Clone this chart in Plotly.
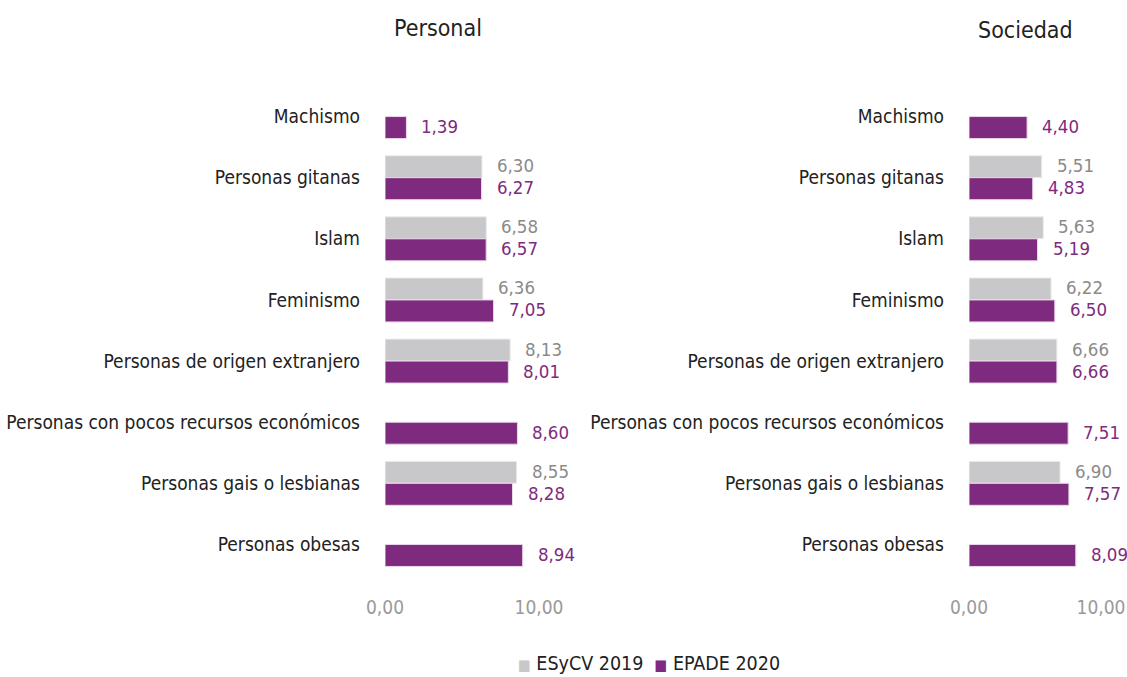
import plotly.graph_objects as go
from plotly.subplots import make_subplots

categories = ["Machismo", "Personas gitanas", "Islam", "Feminismo",
              "Personas de origen extranjero",
              "Personas con pocos recursos económicos",
              "Personas gais o lesbianas", "Personas obesas"]
series_names = ["ESyCV 2019", "EPADE 2020"]
personal_2019 = [None, 6.30, 6.58, 6.36, 8.13, None, 8.55, None]
personal_2020 = [1.39, 6.27, 6.57, 7.05, 8.01, 8.60, 8.28, 8.94]
sociedad_2019 = [None, 5.51, 5.63, 6.22, 6.66, None, 6.90, None]
sociedad_2020 = [4.40, 4.83, 5.19, 6.50, 6.66, 7.51, 7.57, 8.09]
panel_titles = ["Personal", "Sociedad"]
x_ticks = [0, 10]

FONT = "DejaVu Sans Condensed, Liberation Sans Narrow, Roboto, sans-serif"
GRAY = "#C8C8CA"
PURPLE = "#7E2A7E"
GRAY_TXT = "#8A8A8A"
PURPLE_TXT = "#7E2A7E"
W, H = 1127, 677

fig = make_subplots(rows=1, cols=2)

panels = [(personal_2019, personal_2020), (sociedad_2019, sociedad_2020)]
for col, (v19, v20) in enumerate(panels, start=1):
    fig.add_trace(go.Bar(
        y=categories, x=v19, orientation="h", name=series_names[0],
        marker=dict(color=GRAY, line=dict(color="#EDEDED", width=1)),
        showlegend=False, legendgroup="a", hoverinfo="x+y"),
        row=1, col=col)
    fig.add_trace(go.Bar(
        y=categories, x=v20, orientation="h", name=series_names[1],
        marker=dict(color=PURPLE, line=dict(color="#E8D8E8", width=1)),
        showlegend=False, legendgroup="b", hoverinfo="x+y"),
        row=1, col=col)
    xr = "x" if col == 1 else "x2"
    yr = "y" if col == 1 else "y2"
    for vals, color, dy in [(v19, GRAY_TXT, -11), (v20, PURPLE_TXT, 11)]:
        for cat, v in zip(categories, vals):
            if v is None:
                continue
            fig.add_annotation(
                x=v, y=cat, xref=xr, yref=yr, showarrow=False,
                text=f"{v:.2f}".replace(".", ","),
                xanchor="left", yanchor="middle", xshift=13, yshift=-dy + 1,
                font=dict(size=18.5, family=FONT, color=color))

yb, yt = (H - 575) / H, (H - 86) / H
fig.update_layout(
    width=W, height=H,
    margin=dict(l=0, r=0, t=0, b=0),
    paper_bgcolor="white", plot_bgcolor="white",
    barmode="group", bargap=0.28, bargroupgap=0,
    separators=",.",
    showlegend=False,
    font=dict(family=FONT, size=19, color="#222222"),
    xaxis=dict(domain=[385 / W, 539 / W], range=[0, 10]),
    xaxis2=dict(domain=[969 / W, 1101 / W], range=[0, 10]),
    yaxis=dict(domain=[yb, yt]),
    yaxis2=dict(domain=[yb, yt]),
)
for ax in ["xaxis", "xaxis2"]:
    fig.layout[ax].update(tickvals=x_ticks, tickformat=".2f",
                          showgrid=False, zeroline=False, showline=False,
                          ticks="", ticklabelstandoff=19, automargin=False,
                          tickfont=dict(color="#9A9A9A", size=19, family=FONT))
for ax in ["yaxis", "yaxis2"]:
    fig.layout[ax].update(autorange="reversed", showgrid=False,
                          zeroline=False, showline=False, ticks="",
                          ticklabelstandoff=24, automargin=False,
                          tickfont=dict(color="#222222", size=19, family=FONT))

fig.add_annotation(text=panel_titles[0], x=438 / W, y=1 - 28 / H,
                   xref="paper", yref="paper", showarrow=False,
                   xanchor="center", yanchor="middle",
                   font=dict(size=23, family=FONT, color="#222222"))
fig.add_annotation(text=panel_titles[1], x=1025 / W, y=1 - 30 / H,
                   xref="paper", yref="paper", showarrow=False,
                   xanchor="center", yanchor="middle",
                   font=dict(size=23, family=FONT, color="#222222"))

# legend (drawn as text so it can sit at the very bottom edge like the original)
sq = "<span style='color:{};font-size:15px'>■</span> "
legend_text = (sq.format(GRAY) + series_names[0] + "  "
               + sq.format(PURPLE) + series_names[1])
fig.add_annotation(text=legend_text, x=649 / W, y=1 - 663 / H,
                   xref="paper", yref="paper", showarrow=False,
                   xanchor="center", yanchor="middle",
                   font=dict(size=19.5, family=FONT, color="#222222"))

fig.write_html("out.html", config={"displayModeBar": False},
               post_script="document.body.style.margin='0';"
                           "document.body.style.overflow='hidden';")
